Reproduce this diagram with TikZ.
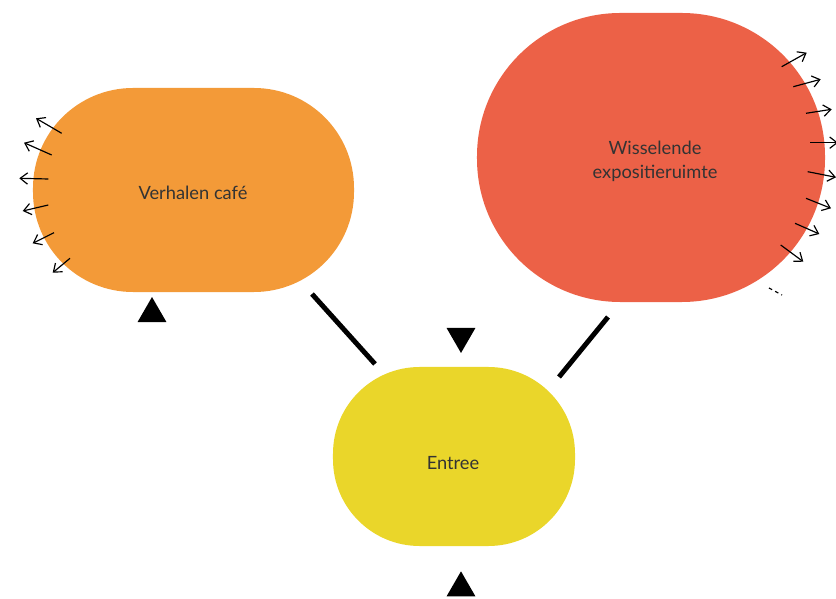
\documentclass[tikz,border=0pt]{standalone}
\usepackage{fontspec}
\setmainfont{Lato}
\usetikzlibrary{arrows.meta,shapes.geometric}

\definecolor{cafeorange}{HTML}{F39A38}
\definecolor{exporood}{HTML}{EC6147}
\definecolor{entreegeel}{HTML}{EAD62A}
\definecolor{tekstgrijs}{HTML}{333333}

\tikzset{
  ruimte/.style={rectangle, draw=none, inner sep=0pt},
  naam/.style={inner sep=0pt, align=center, text=tekstgrijs,
    font=\fontsize{15.6}{20}\selectfont},
  pijl/.style={line width=1pt, -{Straight Barb[length=2.2mm,width=3.4mm]}},
  verbinding/.style={line width=4.2pt},
  driehoek/.style={regular polygon, regular polygon sides=3, fill=black,
    draw=none, inner sep=0pt, minimum size=1cm},
}

\begin{document}
\begin{tikzpicture}[x=0.03cm, y=-0.03cm]
    \useasboundingbox (0,0) rectangle (836,599);

    % ruimtes
    \node[ruimte, fill=cafeorange, minimum width=9.63cm, minimum height=6.12cm,
      rounded corners=3cm] (cafe) at (193.5,190) {};
    \node[ruimte, fill=exporood, minimum width=10.44cm, minimum height=8.67cm,
      rounded corners=4.3cm] (expo) at (651,157.5) {};
    \node[ruimte, fill=entreegeel, minimum width=7.26cm, minimum height=5.37cm,
      rounded corners=2.6cm] (entree) at (454,456.5) {};

    % namen
    \node[naam] (cafenaam) at (193,193) {Verhalen café};
    \node[naam] (exponaam) at (655,161.5) {Wisselende\\expositieruimte};
    \node[naam] (entreenaam) at (453,463) {Entree};

    % ingangen
    \node[driehoek] (ingcafe) at (152,313.7) {};
    \node[driehoek, shape border rotate=180] (ingentree) at (461,336.3) {};
    \node[driehoek] (uitgang) at (461,588) {};

    % verbindingen
    \coordinate (v1a) at (312,294);
    \coordinate (v1b) at (375,364);
    \coordinate (v2a) at (608,317);
    \coordinate (v2b) at (559,377);
    \draw[verbinding] (v1a) -- (v1b);
    \draw[verbinding] (v2a) -- (v2b);

    % pijlen café
    \foreach \xa/\ya/\xb/\yb in {61.7/133.3/36/118.3, 51.7/155/24/142.7,
      48.3/179/19.3/178.3, 48.3/205/22.7/211, 54/232.7/32.7/243.3,
      70/258.3/52.7/272.7}
      \draw[pijl] (\xa,\ya) -- (\xb,\yb);

    % pijlen expositieruimte
    \foreach \xa/\ya/\xb/\yb in {781.7/66.7/806.7/52.7, 793.3/86.7/820.7/79.3,
      806/113.3/831.7/109.3, 810/142.7/838/142.7, 807.7/171.7/836/177.3,
      806/198.3/831/208.3, 795/223.3/819.3/234, 780.7/245/803.3/261.7}
      \draw[pijl] (\xa,\ya) -- (\xb,\yb);

    \draw[line width=1pt, dash pattern=on 3pt off 3pt] (769,288) -- (782,295);
\end{tikzpicture}
\end{document}
